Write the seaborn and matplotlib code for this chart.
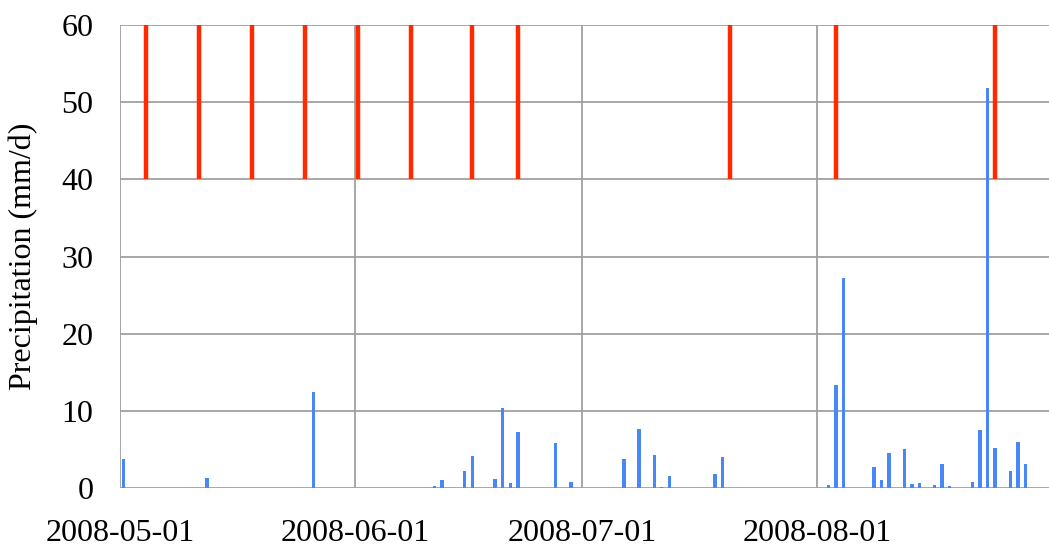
#!/usr/bin/env python3
"""
2008 여름 일강수량 막대 + 관측일(빨간 세로선) 그림
"""

import numpy as np
import pandas as pd
import matplotlib
matplotlib.use("Agg")
import matplotlib.pyplot as plt
import matplotlib.dates as mdates
import seaborn as sns

# 일강수량 (mm/d)
rain_dates = [
    "2008-05-01", "2008-05-12", "2008-05-26",
    "2008-06-11", "2008-06-12", "2008-06-15", "2008-06-16", "2008-06-19",
    "2008-06-20", "2008-06-21", "2008-06-22", "2008-06-27", "2008-06-29",
    "2008-07-06", "2008-07-08", "2008-07-10", "2008-07-11", "2008-07-12",
    "2008-07-18", "2008-07-19",
    "2008-08-02", "2008-08-03", "2008-08-04", "2008-08-08", "2008-08-09",
    "2008-08-10", "2008-08-12", "2008-08-13", "2008-08-14", "2008-08-16",
    "2008-08-17", "2008-08-18", "2008-08-21", "2008-08-22", "2008-08-23",
    "2008-08-24", "2008-08-26", "2008-08-27", "2008-08-28",
]
rain_values = [
    3.7, 1.3, 12.5,
    0.2, 1.0, 2.2, 4.2, 1.2,
    10.4, 0.7, 7.3, 5.8, 0.8,
    3.7, 7.6, 4.3, 0.1, 1.6,
    1.8, 4.0,
    0.4, 13.4, 27.2, 2.7, 1.0,
    4.5, 5.1, 0.5, 0.7, 0.4,
    3.1, 0.2, 0.8, 7.5, 51.8,
    5.2, 2.2, 6.0, 3.1,
]

# 관측일 (빨간 선)
obs_dates = [
    "2008-05-04", "2008-05-11", "2008-05-18", "2008-05-25", "2008-06-01",
    "2008-06-08", "2008-06-16", "2008-06-22", "2008-07-20", "2008-08-03",
    "2008-08-24",
]

month_ticks = ["2008-05-01", "2008-06-01", "2008-07-01", "2008-08-01"]

BLUE = "#4787F7"
RED = "#FF2A00"
GRID = "#A0A0A0"


def main():
    sns.set_style("white")
    plt.rcParams["font.family"] = ["Liberation Serif", "DejaVu Serif"]

    # 막대는 날짜 한가운데(정오)에 오도록
    df = pd.DataFrame({
        "date": pd.to_datetime(rain_dates) + pd.Timedelta(hours=12),
        "rain": rain_values,
    })
    df["x"] = mdates.date2num(df["date"])
    obs_x = mdates.date2num(pd.to_datetime(obs_dates) + pd.Timedelta(hours=11))

    fig = plt.figure(figsize=(10.49, 5.5), dpi=100)
    ax = fig.add_axes([120 / 1049, 1 - 488 / 550, 1 - 120 / 1049, (488 - 25) / 550])

    sns.barplot(data=df, x="x", y="rain", native_scale=True, width=0.45,
                color=BLUE, saturation=1, edgecolor="none", linewidth=0,
                ax=ax, zorder=3)
    ax.vlines(obs_x, 40, 60, color=RED, linewidth=3.2, zorder=4)

    x0 = mdates.date2num(pd.Timestamp("2008-05-01"))
    ax.set_xlim(x0, x0 + 122.6)
    ax.set_ylim(0, 60)
    ax.set_yticks(np.arange(0, 61, 10))
    ax.set_xticks(mdates.date2num(pd.to_datetime(month_ticks)))
    ax.set_xticklabels(month_ticks)

    ax.grid(True, color=GRID, linewidth=1.3, zorder=0)
    ax.set_axisbelow(True)
    for s in ax.spines.values():
        s.set_visible(False)

    ax.tick_params(axis="x", length=7, width=1.3, color=GRID, pad=15,
                   labelsize=23, labelcolor="black")
    ax.tick_params(axis="y", length=7, width=1.3, color=GRID, pad=12,
                   labelsize=23, labelcolor="black")
    ax.set_xlabel("")
    ax.set_ylabel("Precipitation (mm/d)", fontsize=23, labelpad=17, color="black")

    fig.savefig("out.png", dpi=100)
    plt.close(fig)


if __name__ == "__main__":
    main()
